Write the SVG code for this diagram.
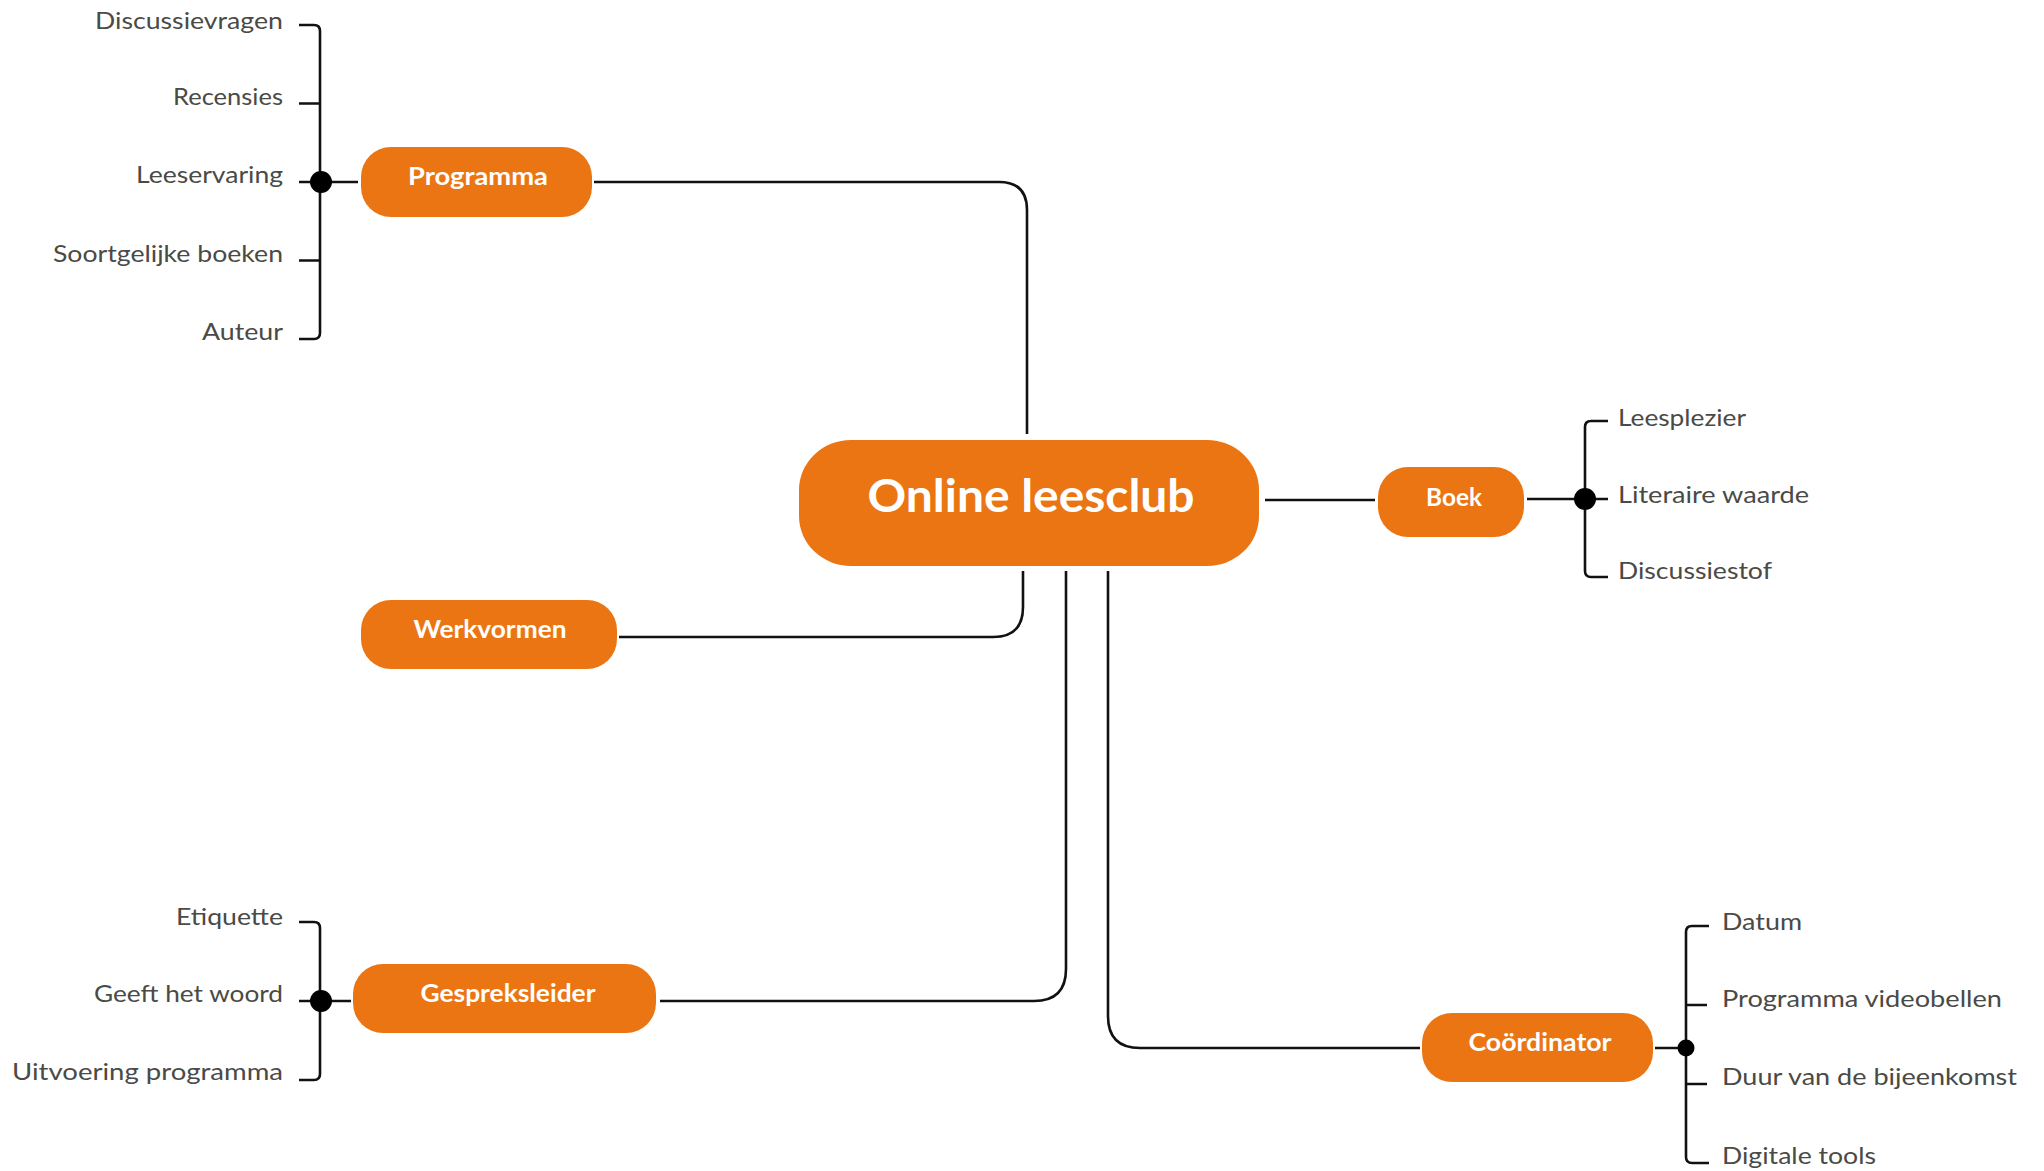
<svg xmlns="http://www.w3.org/2000/svg" width="2044" height="1171" viewBox="0 0 2044 1171">
<style>
.bg{fill:#ffffff}
.node{fill:#EB7513}
.nt{font-family:Lato,"Liberation Sans",sans-serif;font-weight:700;font-size:25px;fill:#ffffff;text-anchor:middle}
.ct{font-family:Lato,"Liberation Sans",sans-serif;font-weight:700;font-size:46px;fill:#ffffff;text-anchor:middle}
.lbl{font-family:Lato,"Liberation Sans",sans-serif;font-size:24px;fill:#4a4a46}
.l{text-anchor:end}
.r{text-anchor:start}
.ln{fill:none;stroke:#111111;stroke-width:2.6}
.dot{fill:#000000}
</style>
<rect class="bg" x="0" y="0" width="2044" height="1171"/>
<g id="connectors">
  <path class="ln" d="M594 182 H999 Q1027 182 1027 210 V434"/>
  <path class="ln" d="M619 637 H993 Q1023 637 1023 607 V571"/>
  <path class="ln" d="M660 1001 H1034 Q1066 1001 1066 969 V571"/>
  <path class="ln" d="M1108 571 V1016 Q1108 1048 1140 1048 H1420"/>
  <path class="ln" d="M1265 500 H1375"/>
  <path class="ln" d="M299 25 H314 Q320 25 320 31 V333 Q320 339 314 339 H299"/>
  <path class="ln" d="M299 103.5 H320 M299 182 H358 M299 260.5 H320"/>
  <path class="ln" d="M299 922 H314 Q320 922 320 928 V1074 Q320 1080 314 1080 H299"/>
  <path class="ln" d="M299 1001 H351"/>
  <path class="ln" d="M1608 421 H1591 Q1585 421 1585 427 V571 Q1585 577 1591 577 H1608"/>
  <path class="ln" d="M1527 499 H1608"/>
  <path class="ln" d="M1709 926 H1692 Q1686 926 1686 932 V1157 Q1686 1163 1692 1163 H1709"/>
  <path class="ln" d="M1686 1005 H1707 M1686 1084 H1707 M1655 1048 H1686"/>
  <circle class="dot" cx="321" cy="182" r="11"/>
  <circle class="dot" cx="321" cy="1001" r="11"/>
  <circle class="dot" cx="1585" cy="499" r="11"/>
  <circle class="dot" cx="1686" cy="1048" r="8.5"/>
</g>
<g id="center">
  <rect class="node" x="799" y="440" width="460" height="126" rx="52" ry="50"/>
  <text class="ct" x="1031" y="512" textLength="327" lengthAdjust="spacingAndGlyphs">Online leesclub</text>
</g>
<g id="programma">
  <rect class="node" x="361" y="147" width="231" height="70" rx="30"/>
  <text class="nt" x="478" y="185" textLength="140" lengthAdjust="spacingAndGlyphs">Programma</text>
</g>
<g id="werkvormen">
  <rect class="node" x="361" y="600" width="256" height="69" rx="30"/>
  <text class="nt" x="490" y="638" textLength="153" lengthAdjust="spacingAndGlyphs">Werkvormen</text>
</g>
<g id="gespreksleider">
  <rect class="node" x="353" y="964" width="303" height="69" rx="30"/>
  <text class="nt" x="508" y="1002" textLength="175" lengthAdjust="spacingAndGlyphs">Gespreksleider</text>
</g>
<g id="boek">
  <rect class="node" x="1378" y="467" width="146" height="70" rx="30"/>
  <text class="nt" x="1454" y="506" textLength="56" lengthAdjust="spacingAndGlyphs">Boek</text>
</g>
<g id="coordinator">
  <rect class="node" x="1422" y="1013" width="231" height="69" rx="30"/>
  <text class="nt" x="1540" y="1051" textLength="143" lengthAdjust="spacingAndGlyphs">Coördinator</text>
</g>
<g id="programma-items">
  <text class="lbl l" x="283" y="29" textLength="188" lengthAdjust="spacingAndGlyphs">Discussievragen</text>
  <text class="lbl l" x="283" y="105" textLength="110" lengthAdjust="spacingAndGlyphs">Recensies</text>
  <text class="lbl l" x="283" y="183" textLength="147" lengthAdjust="spacingAndGlyphs">Leeservaring</text>
  <text class="lbl l" x="283" y="261.5" textLength="230" lengthAdjust="spacingAndGlyphs">Soortgelijke boeken</text>
  <text class="lbl l" x="283" y="339.5" textLength="81" lengthAdjust="spacingAndGlyphs">Auteur</text>
</g>
<g id="gespreksleider-items">
  <text class="lbl l" x="283" y="925" textLength="107" lengthAdjust="spacingAndGlyphs">Etiquette</text>
  <text class="lbl l" x="283" y="1002" textLength="189" lengthAdjust="spacingAndGlyphs">Geeft het woord</text>
  <text class="lbl l" x="283" y="1080" textLength="271" lengthAdjust="spacingAndGlyphs">Uitvoering programma</text>
</g>
<g id="boek-items">
  <text class="lbl r" x="1618" y="426" textLength="128" lengthAdjust="spacingAndGlyphs">Leesplezier</text>
  <text class="lbl r" x="1618" y="502.5" textLength="191" lengthAdjust="spacingAndGlyphs">Literaire waarde</text>
  <text class="lbl r" x="1618" y="579" textLength="154" lengthAdjust="spacingAndGlyphs">Discussiestof</text>
</g>
<g id="coordinator-items">
  <text class="lbl r" x="1722" y="930" textLength="80" lengthAdjust="spacingAndGlyphs">Datum</text>
  <text class="lbl r" x="1722" y="1007" textLength="280" lengthAdjust="spacingAndGlyphs">Programma videobellen</text>
  <text class="lbl r" x="1722" y="1085" textLength="295" lengthAdjust="spacingAndGlyphs">Duur van de bijeenkomst</text>
  <text class="lbl r" x="1722" y="1164" textLength="154" lengthAdjust="spacingAndGlyphs">Digitale tools</text>
</g>
</svg>
